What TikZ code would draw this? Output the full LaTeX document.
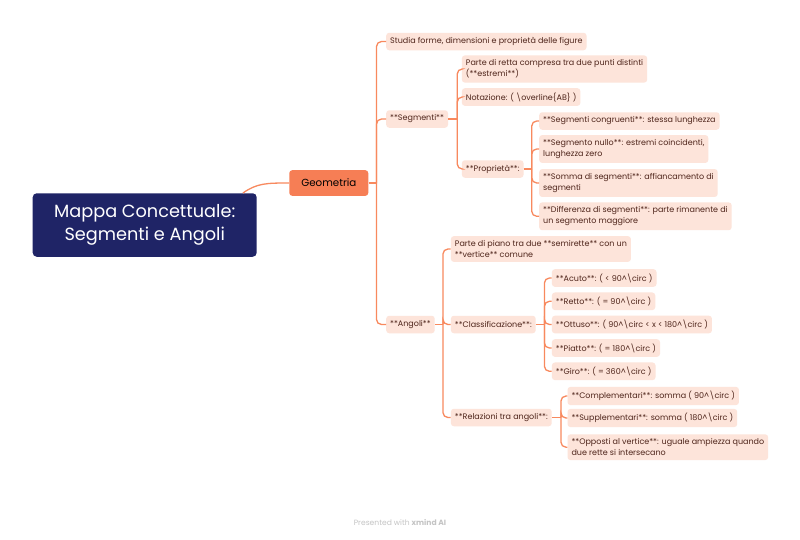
\documentclass[tikz,border=0pt]{standalone}
\usepackage{fontspec}
\setmainfont{Poppins}
\usepackage{tikz}
\usetikzlibrary{positioning,calc}
\definecolor{navy}{HTML}{1F2466}
\definecolor{coral}{HTML}{F67E55}
\definecolor{peach}{HTML}{FDE4DA}
\definecolor{brownish}{HTML}{4E241A}
\definecolor{linkc}{HTML}{F8895E}
\definecolor{footc}{HTML}{C4C4C4}

\begin{document}
\begin{tikzpicture}
    [
      x=1pt, y=-1pt,
      leaf/.style = {fill=peach, text=brownish, rounded corners=3pt, anchor=west, align=left,
                     font=\fontsize{8}{11}\selectfont, inner xsep=4pt, inner ysep=4.3pt, minimum height=17.5pt},
      link/.style = {draw=linkc, line width=1.3pt, rounded corners=5pt},
    ]
    \fill[white] (0,0) rectangle (800,539);
    \useasboundingbox (0,0) rectangle (800,539);

    \node[fill=navy, text=white, rounded corners=4pt, align=center, minimum width=224pt, minimum height=63.5pt,
          font=\fontsize{17.7}{22.5}\selectfont](root) at (144.7,225) {Mappa Concettuale:\\Segmenti e Angoli};
    \node[fill=coral, text=black, rounded corners=3pt, minimum width=79pt, minimum height=25.7pt,
          font=\fontsize{10.3}{12}\selectfont](geo) at (328.8,183) {Geometria};

    \node[leaf](studia) at (386,41.5) {Studia forme, dimensioni e proprietà delle figure};
    \node[leaf](seg) at (386,119) {**Segmenti**};
    \node[leaf](ang) at (386,324.5) {**Angoli**};

    \node[leaf](retta) at (461.7,69) {Parte di retta compresa tra due punti distinti\\(**estremi**)};
    \node[leaf](notaz) at (461.7,97) {Notazione: ( \textbackslash overline\{AB\} )};
    \node[leaf](prop) at (461.7,169) {**Proprietà**:};

    \node[leaf](congr) at (539,121) {**Segmenti congruenti**: stessa lunghezza};
    \node[leaf](nullo) at (539,149) {**Segmento nullo**: estremi coincidenti,\\lunghezza zero};
    \node[leaf](somma) at (539,183) {**Somma di segmenti**: affiancamento di\\segmenti};
    \node[leaf](diff) at (539,216.3) {**Differenza di segmenti**: parte rimanente di\\un segmento maggiore};

    \node[leaf](piano) at (450.7,249) {Parte di piano tra due **semirette** con un\\**vertice** comune};
    \node[leaf](class) at (450.7,324.5) {**Classificazione**:};
    \node[leaf](rel) at (450.7,417.5) {**Relazioni tra angoli**:};

    \node[leaf](acuto) at (551.7,278) {**Acuto**: ( < 90\textasciicircum\textbackslash circ )};
    \node[leaf](retto) at (551.7,301.3) {**Retto**: ( = 90\textasciicircum\textbackslash circ )};
    \node[leaf](ottuso) at (551.7,324.5) {**Ottuso**: ( 90\textasciicircum\textbackslash circ < x < 180\textasciicircum\textbackslash circ )};
    \node[leaf](piatto) at (551.7,348) {**Piatto**: ( = 180\textasciicircum\textbackslash circ )};
    \node[leaf](giro) at (551.7,371.3) {**Giro**: ( = 360\textasciicircum\textbackslash circ )};

    \node[leaf](compl) at (567.3,396) {**Complementari**: somma ( 90\textasciicircum\textbackslash circ )};
    \node[leaf](suppl) at (567.3,418) {**Supplementari**: somma ( 180\textasciicircum\textbackslash circ )};
    \node[leaf](opp) at (567.3,447.2) {**Opposti al vertice**: uguale ampiezza quando\\due rette si intersecano};

    \node[text=footc, font=\fontsize{7.6}{9}\selectfont](footer) at (400,522) {Presented with \textbf{xmind AI}};

    \draw[link] ([xshift=-14pt]root.north east) .. controls +(14,-10) and +(-22,0) .. (geo.west);

    \draw[link] (geo.east) -- ++(8,0);
    \foreach \c in {studia,seg,ang}
      \draw[link] ([xshift=8pt]geo.east) |- (\c.west);
    \draw[link] (seg.east) -- ++(9,0);
    \foreach \c in {retta,notaz,prop}
      \draw[link] ([xshift=9pt]seg.east) |- (\c.west);
    \draw[link] (prop.east) -- ++(8,0);
    \foreach \c in {congr,nullo,somma,diff}
      \draw[link] ([xshift=8pt]prop.east) |- (\c.west);
    \draw[link] (ang.east) -- ++(8,0);
    \foreach \c in {piano,class,rel}
      \draw[link] ([xshift=8pt]ang.east) |- (\c.west);
    \draw[link] (class.east) -- ++(8.5,0);
    \foreach \c in {acuto,retto,ottuso,piatto,giro}
      \draw[link] ([xshift=8.5pt]class.east) |- (\c.west);
    \draw[link] (rel.east) -- ++(9,0);
    \foreach \c in {compl,suppl,opp}
      \draw[link] ([xshift=9pt]rel.east) |- (\c.west);
\end{tikzpicture}
\end{document}
